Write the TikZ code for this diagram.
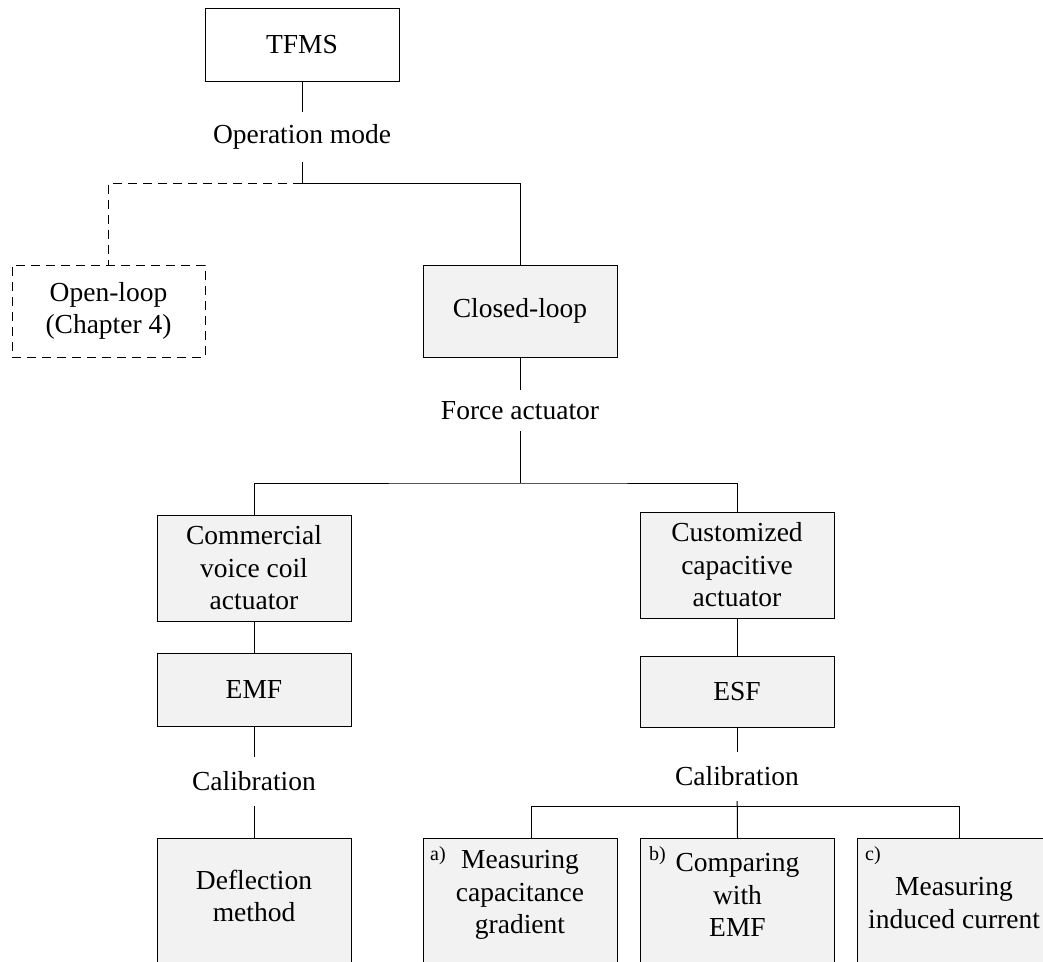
\documentclass[tikz,border=0pt]{standalone}
\usepackage{fontspec}
\setmainfont{Liberation Serif}
\definecolor{boxgray}{HTML}{F2F2F2}
\begin{document}
\begin{tikzpicture}[x=1pt,y=-1pt,
  every node/.style={font=\fontsize{27.5}{32.5}\selectfont},
  wire/.style={line width=1pt},
  dashwire/.style={line width=1pt, dash pattern=on 9pt off 6pt},
  box/.style={draw, line width=1pt, fill=boxgray, minimum width=194, inner sep=0, align=center},
  gap/.style={inner sep=0, align=center},
  tag/.style={inner sep=0, font=\fontsize{20}{22}\selectfont}]
\clip (0,0) rectangle (1043,961);

% top level
\node[box, fill=white, minimum height=73] (tfms) at (302,44.5) {TFMS};
\node[gap, minimum height=50] (opmode) at (302,137) {Operation mode};
\coordinate (split) at (302,183);
\node[box, fill=none, dash pattern=on 9pt off 6pt, minimum width=193, minimum height=92] (open) at (108.5,311) {Open-loop\\(Chapter 4)};
\node[box, minimum height=92] (closed) at (520,311) {Closed-loop};
\node[gap, minimum height=41] (force) at (520,410.5) {Force actuator};
\coordinate (bus1) at (520,483);

% actuator branches
\node[box, minimum height=106] (comm) at (254,568) {Commercial\\voice coil\\actuator};
\node[box, minimum height=106] (cust) at (737,565) {Customized\\capacitive\\actuator};
\node[box, minimum height=73] (emf) at (254,689.5) {EMF};
\node[box, minimum height=71] (esf) at (737,691.5) {ESF};
\node[gap, minimum height=49] (calL) at (254,781.5) {Calibration};
\node[gap, minimum height=49] (calR) at (737,776.5) {Calibration};
\coordinate (bus2) at (737,806);

% calibration methods
\node[box, anchor=north, minimum height=160] (defl) at (254,838) {};
\node[gap] (defltext) at (254,896) {Deflection\\method};
\node[box, anchor=north, minimum height=160] (ma) at (520,838) {};
\node[tag, anchor=north west] (ta) at (430,846) {a)};
\node[gap] (matext) at (520,895) {Measuring\\capacitance\\gradient};
\node[box, anchor=north, minimum height=160] (mb) at (737.5,838) {};
\node[tag, anchor=north west] (tb) at (649,846) {b)};
\node[gap] (mbtext) at (737.5,895) {Comparing\\with\\EMF};
\node[box, anchor=north, minimum height=160] (mc) at (954,838) {};
\node[tag, anchor=north west] (tc) at (865,846) {c)};
\node[gap] (mctext) at (954,903) {Measuring\\induced current};

% connectors
\draw[wire] (tfms) -- (opmode);
\draw[wire] (opmode) -- (split);
\draw[wire] (split) -| (closed.north);
\draw[dashwire] (split) -| (open.north);
\draw[wire] (closed) -- (force);
\draw[wire] (force) -- (bus1);
\draw[wire] (comm.north) |- (bus1) -| (cust.north);
\draw[wire] (comm) -- (emf);
\draw[wire] (emf) -- (calL);
\draw[wire] (calL) -- (defl.north);
\draw[wire] (cust) -- (esf);
\draw[wire] (esf) -- (calR);
\draw[wire] (calR) -- (mb.north);
\draw[wire] ([xshift=11pt]ma.north) |- (bus2) -| ([xshift=5pt]mc.north);
\end{tikzpicture}
\end{document}
